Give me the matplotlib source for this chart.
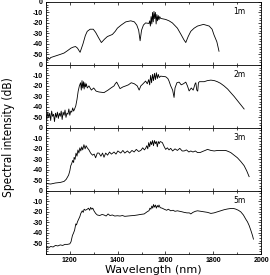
import matplotlib
matplotlib.use("Agg")
import matplotlib.pyplot as plt
from matplotlib.ticker import MultipleLocator

labels = ["1m", "2m", "3m", "5m"]

p1 = [(1100, -54), (1105, -55), (1110, -53.5), (1115, -54.5), (1120, -53), (1140, -51.5),
      (1160, -50), (1176, -48.7), (1190, -46.5), (1205, -44), (1215, -43), (1224, -42.5),
      (1232, -44), (1243, -48), (1255, -40), (1265, -32), (1273, -28), (1285, -26),
      (1298, -26), (1308, -29), (1320, -34), (1332, -38.7), (1345, -35.5), (1357, -33),
      (1378, -31), (1390, -28), (1399, -25), (1415, -22), (1434, -19), (1455, -18),
      (1470, -19), (1480, -22), (1488, -27), (1494, -37), (1500, -27), (1508, -22),
      (1517, -20), (1531, -20.5), (1534, -18), (1537, -23), (1540, -14), (1543, -21),
      (1546, -10), (1549, -19), (1552, -9), (1555, -16), (1558, -10), (1561, -21),
      (1564, -12), (1567, -18), (1570, -13), (1573, -17), (1576, -14), (1580, -15.7),
      (1601, -16.7), (1615, -18), (1629, -20), (1650, -25), (1665, -31), (1677, -36),
      (1685, -38.7), (1695, -33), (1706, -28), (1720, -25), (1734, -23), (1759, -21.4),
      (1783, -23), (1795, -26), (1803, -31.4), (1815, -38), (1824, -47)]

p2 = [(1100, -47), (1104, -52), (1108, -45), (1112, -50), (1116, -46), (1120, -53),
      (1124, -44), (1128, -49), (1132, -47), (1136, -54), (1140, -46), (1144, -50),
      (1148, -45), (1152, -51), (1156, -46), (1160, -49), (1164, -44), (1168, -52),
      (1172, -45), (1176, -48), (1180, -43), (1184, -50), (1188, -46), (1192, -47),
      (1196, -42), (1200, -48), (1204, -44), (1208, -45), (1212, -41), (1216, -44),
      (1220, -42), (1225, -39), (1230, -33), (1235, -25), (1240, -20), (1245, -17),
      (1248, -24), (1251, -15), (1254, -22), (1257, -16), (1260, -23), (1263, -17),
      (1266, -21), (1269, -18), (1273, -22), (1280, -20), (1290, -24), (1300, -22),
      (1310, -25), (1322, -25.8), (1343, -26.4), (1360, -24), (1372, -22), (1385, -20),
      (1390, -18), (1396, -16.4), (1402, -19), (1410, -22.6), (1422, -21), (1434, -20),
      (1445, -19), (1457, -17), (1470, -18), (1482, -20), (1490, -24), (1497, -20),
      (1504, -18.5), (1517, -15.4), (1524, -18), (1530, -14), (1534, -19), (1538, -10),
      (1542, -17), (1546, -9), (1550, -15), (1554, -8), (1558, -14), (1562, -7.5),
      (1566, -13), (1570, -9), (1574, -12), (1580, -10.7), (1590, -11), (1601, -11.3),
      (1610, -13), (1615, -15.4), (1622, -20), (1630, -24), (1636, -31), (1640, -22),
      (1648, -17), (1657, -16.4), (1666, -19), (1675, -18), (1685, -16.4), (1692, -20),
      (1699, -24.8), (1708, -22), (1716, -24), (1724, -18), (1727, -17), (1731, -24),
      (1735, -25), (1738, -17), (1742, -16), (1750, -16), (1762, -16), (1775, -15),
      (1790, -14.5), (1805, -15), (1817, -16), (1830, -17.5), (1845, -20), (1860, -23),
      (1873, -26.4), (1887, -30), (1901, -34), (1915, -38), (1929, -42)]

p3 = [(1100, -53), (1120, -53.5), (1140, -52.5), (1160, -52), (1176, -51), (1185, -49),
      (1190, -47), (1195, -45), (1200, -41), (1204, -36), (1208, -34), (1212, -31),
      (1216, -33), (1218, -28), (1222, -30), (1226, -24), (1230, -27), (1234, -21),
      (1238, -24), (1242, -19), (1246, -22), (1250, -18), (1254, -21), (1259, -16),
      (1264, -20), (1268, -17), (1273, -19), (1280, -21), (1287, -24), (1295, -26),
      (1302, -25), (1308, -28.5), (1315, -24), (1322, -24), (1330, -27), (1337, -24),
      (1343, -28), (1350, -24), (1358, -26), (1366, -23), (1374, -25), (1385, -23),
      (1393, -25), (1401, -22), (1413, -24), (1422, -21.5), (1430, -24), (1441, -22),
      (1450, -24), (1460, -21.5), (1469, -23), (1478, -20.5), (1488, -22.5), (1497, -21.5),
      (1505, -19), (1512, -21), (1517, -19.5), (1522, -17), (1526, -20), (1530, -14),
      (1534, -18), (1538, -13), (1542, -16), (1546, -12), (1550, -17), (1554, -12),
      (1558, -15), (1562, -13), (1566, -18), (1570, -13), (1574, -15), (1578, -13),
      (1587, -14), (1595, -18), (1601, -20.5), (1608, -19), (1615, -21), (1622, -19.5),
      (1630, -22), (1640, -20), (1650, -21.5), (1660, -19.5), (1670, -22), (1678, -22),
      (1688, -21), (1698, -23), (1706, -22), (1715, -23), (1725, -22), (1734, -23.5),
      (1745, -23.5), (1755, -22.5), (1766, -21.5), (1776, -20.5), (1790, -21.5),
      (1804, -22), (1818, -21.5), (1831, -21.5), (1852, -21.5), (1863, -22.5),
      (1873, -23.5), (1887, -26), (1901, -28.5), (1915, -32), (1929, -36), (1940, -41),
      (1950, -46.5)]

p4 = [(1100, -53.5), (1110, -54.5), (1120, -53), (1130, -53.5), (1140, -52), (1150, -52.5),
      (1160, -51.5), (1170, -52), (1180, -51), (1190, -51), (1200, -50.5), (1205, -48.5),
      (1211, -42.5), (1215, -40.5), (1220, -37.5), (1225, -31.5), (1228, -32.5),
      (1232, -29.5), (1238, -26.5), (1242, -24.5), (1246, -21.5), (1252, -19), (1256, -20.5),
      (1260, -17.5), (1265, -18.5), (1273, -17.5), (1278, -16.5), (1283, -18.5),
      (1287, -15.8), (1292, -17.5), (1296, -16.5), (1301, -19), (1308, -21.5), (1315, -23),
      (1325, -23.5), (1335, -22.5), (1343, -23), (1352, -24), (1360, -22), (1368, -23.5),
      (1378, -23), (1388, -24), (1399, -23.7), (1410, -24), (1420, -23.5), (1430, -24.3),
      (1442, -24), (1455, -23.7), (1468, -23.5), (1483, -23), (1495, -22.5), (1511, -22),
      (1520, -20.5), (1526, -19.5), (1531, -19), (1535, -16.5), (1539, -17.5), (1543, -14.5),
      (1547, -16.5), (1550, -13), (1554, -15.5), (1558, -13.5), (1562, -16.5), (1566, -14),
      (1570, -15.5), (1573, -13.5), (1578, -16), (1586, -16.5), (1594, -17.4), (1605, -18.5),
      (1612, -17.5), (1622, -19), (1632, -18.5), (1640, -19.5), (1650, -19), (1660, -19.5),
      (1670, -20), (1678, -20.5), (1690, -21), (1700, -21), (1706, -22), (1715, -20.5),
      (1725, -19.5), (1734, -19), (1748, -19.5), (1762, -20), (1776, -20.5), (1790, -21.5),
      (1803, -21), (1817, -20), (1831, -19), (1845, -18), (1859, -17.3), (1873, -16.8),
      (1885, -16.8), (1894, -17.4), (1905, -18.5), (1915, -20), (1926, -23), (1936, -27),
      (1943, -29.5), (1950, -33), (1957, -37.5), (1964, -42.5), (1968, -46)]

spectra = [p1, p2, p3, p4]
yticks = [0, -10, -20, -30, -40, -50]
xticks = [1200, 1400, 1600, 1800, 2000]

fig, axes = plt.subplots(4, 1, sharex=True, figsize=(2.7, 2.75), dpi=100)
fig.subplots_adjust(left=0.17, right=0.967, top=0.993, bottom=0.077, hspace=0)

for ax, data, lab in zip(axes, spectra, labels):
    x = [d[0] for d in data]
    y = [d[1] for d in data]
    ax.plot(x, y, color="black", lw=0.6)
    ax.set_ylim(-60, 0)
    ax.set_xlim(1100, 2000)
    ax.set_yticks(yticks)
    ax.set_yticklabels([str(t) for t in yticks])
    ax.yaxis.set_minor_locator(MultipleLocator(2.5))
    ax.xaxis.set_major_locator(MultipleLocator(200))
    ax.xaxis.set_minor_locator(MultipleLocator(100))
    ax.tick_params(which="both", direction="in", top=True, right=True,
                   labelsize=5, width=0.5, pad=2)
    ax.tick_params(which="major", length=2.5)
    ax.tick_params(which="minor", length=1.3)
    for s in ax.spines.values():
        s.set_linewidth(0.6)
    ax.text(1910, -9, lab, fontsize=5.5, ha="center", va="center")
    for t in ax.get_yticklabels():
        t.set_fontfamily("Liberation Sans")
        t.set_fontweight("bold")

axes[-1].set_xticks(xticks)
for t in axes[-1].get_xticklabels():
    t.set_fontfamily("Liberation Sans")
    t.set_fontweight("bold")
axes[-1].set_xlabel("Wavelength (nm)", fontsize=8, labelpad=1)
fig.text(0.03, 0.5, "Spectral intensity (dB)", rotation=90, va="center", ha="center",
         fontsize=8.5, family="DejaVu Sans", fontstretch="condensed")

fig.savefig("out.png", dpi=100)
